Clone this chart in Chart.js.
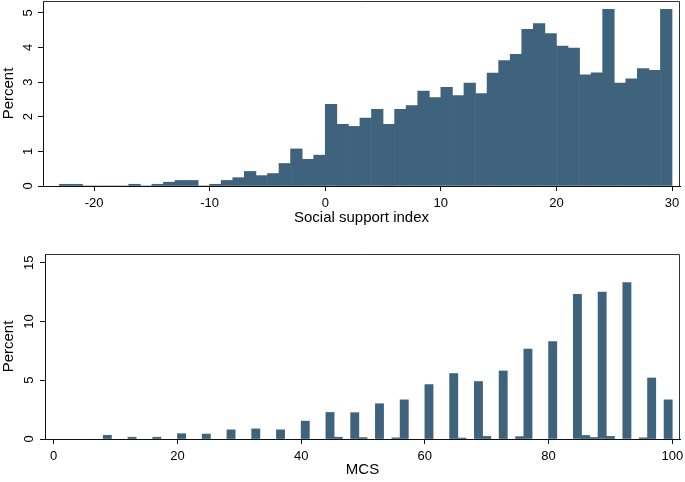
<!DOCTYPE html>
<html>
<head>
<meta charset="utf-8">
<script src="https://cdn.jsdelivr.net/npm/chart.js@4"></script>
<style>
  html, body { margin: 0; padding: 0; background: #fff; }
  .panel { position: relative; width: 685px; }
  #top-wrap { height: 240px; }
  #bottom-wrap { height: 242px; }
</style>
</head>
<body>
<div class="panel" id="top-wrap"><canvas id="ssi-chart"></canvas></div>
<div class="panel" id="bottom-wrap"><canvas id="mcs-chart"></canvas></div>
<script>
// Social support index histogram: bins of width 1 starting at -23
const ssiBinStart = -23;
const ssiBinWidth = 1;
const ssiPercent = [
  0.05, 0.05, 0, 0, 0, 0, 0.05, 0, 0.05, 0.11, 0.16, 0.16, 0, 0.05, 0.16, 0.24,
  0.42, 0.30, 0.36, 0.65, 1.07, 0.77, 0.89,
  2.36, 1.78, 1.72, 1.96, 2.21, 1.78, 2.21, 2.32, 2.74, 2.55, 2.85, 2.61, 2.97, 2.67,
  3.26, 3.62, 3.80, 4.52, 4.69, 4.40, 4.04, 3.98, 3.21, 3.27, 5.10, 2.97, 3.09, 3.39,
  3.34, 5.10
];
const ssiXTicks = [-20, -10, 0, 10, 20, 30];
const ssiYTicks = [0, 1, 2, 3, 4, 5];

// MCS histogram: only the non-empty bins (left edge), width 4/3
const mcsBinWidth = 4 / 3;
const mcsBinLeft = [
  8, 12, 16, 20, 24, 28, 32, 36, 40, 44, 45.33, 48, 49.33, 52, 54.67, 56, 60, 64,
  65.33, 68, 69.33, 72, 74.67, 76, 80, 84, 85.33, 86.67, 88, 89.33, 92, 94.67, 96, 98.67
];
const mcsPercent = [
  0.31, 0.15, 0.15, 0.45, 0.42, 0.78, 0.86, 0.78, 1.52, 2.26, 0.15, 2.24, 0.12, 3.0,
  0.1, 3.33, 4.63, 5.57, 0.08, 4.89, 0.22, 5.79, 0.2, 7.65, 8.28, 12.3, 0.3, 0.13,
  12.5, 0.22, 13.3, 0.1, 5.19, 3.33
];
const mcsXTicks = [0, 20, 40, 60, 80, 100];
const mcsYTicks = [0, 5, 10, 15];

const BAR_COLOR = '#40637d';
const AXIS_COLOR = '#111';

Chart.defaults.font.family = '"Liberation Sans", Arial, sans-serif';
Chart.defaults.font.size = 13;
Chart.defaults.color = '#000';

// frame round the plot region (top and right sides)
const frame = {
  id: 'frame',
  afterDraw(chart) {
    const { ctx, chartArea: a } = chart;
    ctx.save();
    ctx.strokeStyle = '#333';
    ctx.lineWidth = 1;
    ctx.beginPath();
    ctx.moveTo(a.left, a.top + 0.5);
    ctx.lineTo(a.right - 0.5, a.top + 0.5);
    ctx.lineTo(a.right - 0.5, a.bottom);
    ctx.stroke();
    ctx.restore();
  }
};

function noLabelPadding(s) {
  s.paddingTop = 0; s.paddingBottom = 0;
  s.paddingLeft = 0; s.paddingRight = 0;
}

function histChart(id, cfg) {
  const points = cfg.x.map((x, i) => ({ x: x + cfg.binWidth / 2, y: cfg.y[i] }));
  return new Chart(document.getElementById(id), {
    type: 'bar',
    data: {
      datasets: [{
        data: points,
        backgroundColor: BAR_COLOR,
        borderWidth: 0,
        barPercentage: 1,
        categoryPercentage: 1,
      }]
    },
    options: {
      responsive: true,
      maintainAspectRatio: false,
      animation: false,
      layout: { padding: cfg.padding },
      plugins: { legend: { display: false }, tooltip: { enabled: false } },
      scales: {
        x: {
          type: 'linear',
          min: cfg.xMin, max: cfg.xMax,
          offset: false,
          afterBuildTicks: s => { s.ticks = cfg.xTicks.map(v => ({ value: v })); },
          afterFit: s => { s.height = cfg.xHeight; noLabelPadding(s); },
          grid: { offset: false, drawOnChartArea: false, drawTicks: true, tickLength: 5, color: AXIS_COLOR },
          border: { display: true, color: AXIS_COLOR, width: 1 },
          ticks: { padding: 5, maxRotation: 0, autoSkip: false },
          title: { display: true, text: cfg.xTitle, font: { size: 15 }, padding: { top: 0, bottom: cfg.xTitlePad } },
        },
        y: {
          type: 'linear',
          min: 0, max: cfg.yMax,
          afterBuildTicks: s => { s.ticks = cfg.yTicks.map(v => ({ value: v })); },
          afterFit: s => { s.width = cfg.yWidth; noLabelPadding(s); },
          grid: { drawOnChartArea: false, drawTicks: true, tickLength: 5, color: AXIS_COLOR },
          border: { display: true, color: AXIS_COLOR, width: 1 },
          ticks: { minRotation: 90, maxRotation: 90, crossAlign: 'center', padding: cfg.yTickPad },
          title: { display: true, text: 'Percent', font: { size: 15 }, padding: { top: 0, bottom: 0 } },
        }
      }
    },
    plugins: [frame]
  });
}

histChart('ssi-chart', {
  x: ssiPercent.map((_, i) => ssiBinStart + i * ssiBinWidth),
  y: ssiPercent,
  binWidth: ssiBinWidth,
  xMin: -24.42, xMax: 30.69, yMax: 5.34,
  xTicks: ssiXTicks, yTicks: ssiYTicks,
  xTitle: 'Social support index',
  padding: { top: 1, right: 5, left: 0, bottom: 0 },
  xHeight: 54, yWidth: 43, xTitlePad: 13, yTickPad: 6,
});

histChart('mcs-chart', {
  x: mcsBinLeft,
  y: mcsPercent,
  binWidth: mcsBinWidth,
  xMin: -1.41, xMax: 101.25, yMax: 15.74,
  xTicks: mcsXTicks, yTicks: mcsYTicks,
  xTitle: 'MCS',
  padding: { top: 14, right: 5, left: 0, bottom: 0 },
  xHeight: 43, yWidth: 45, xTitlePad: 3, yTickPad: 3,
});
</script>
</body>
</html>
